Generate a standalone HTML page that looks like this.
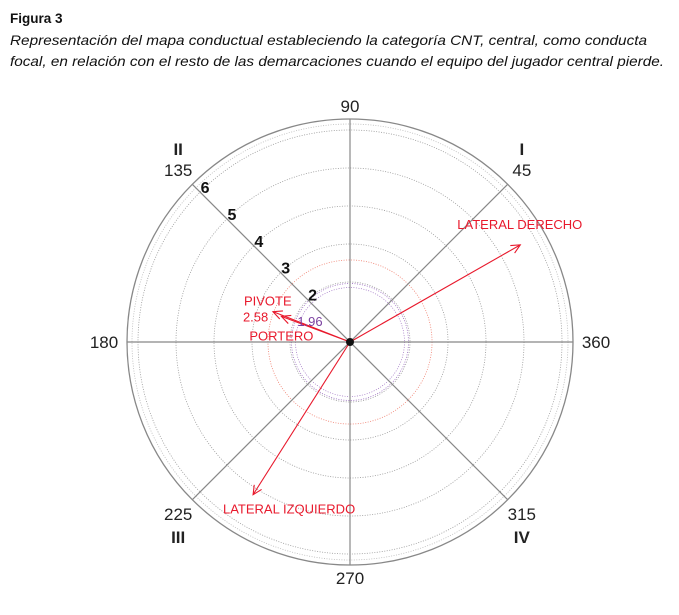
<!DOCTYPE html>
<html><head><meta charset="utf-8"><style>
html,body{margin:0;padding:0;background:#fff;}
svg{display:block;font-family:"Liberation Sans",sans-serif;}
</style></head><body>
<svg width="679" height="615" viewBox="0 0 679 615">
<text x="10" y="23" font-size="13.5" font-weight="bold" fill="#111">Figura 3</text>
<text x="10" y="45" font-size="14" font-style="italic" fill="#111" textLength="637" lengthAdjust="spacingAndGlyphs">Representación del mapa conductual estableciendo la categoría CNT, central, como conducta</text>
<text x="10" y="66" font-size="14" font-style="italic" fill="#111" textLength="654" lengthAdjust="spacingAndGlyphs">focal, en relación con el resto de las demarcaciones cuando el equipo del jugador central pierde.</text>
<g id="chart"></g>
</svg>
<script>
const categories = ["LATERAL DERECHO","LATERAL IZQUIERDO","PIVOTE","PORTERO"];
const lengths = [5.58, 5.18, 2.6, 2.35];
const angles = [29.7, 237.6, 158.5, 159.5];
const radialTicks = [2,3,4,5,6];
const angleTicks = [45,90,135,180,225,270,315,360];
const quadrants = ["I","II","III","IV"];
const sigLevels = [1.96, 2.58];

const NS="http://www.w3.org/2000/svg";
const g=document.getElementById('chart');
const cx=350, cy=342, R=223;
function rScale(v){return 38*v-16;}
function pt(v,a){const r=rScale(v),t=a*Math.PI/180;return [cx+r*Math.cos(t),cy-r*Math.sin(t)];}
function ptR(r,a){const t=a*Math.PI/180;return [cx+r*Math.cos(t),cy-r*Math.sin(t)];}
function mk(tag,attrs){const e=document.createElementNS(NS,tag);for(const k in attrs)e.setAttribute(k,attrs[k]);g.appendChild(e);return e;}

let e;
e=mk('circle',{cx:cx,cy:cy,r:R,fill:'none',stroke:'#888','stroke-width':1.3});


e=mk('circle',{cx:cx,cy:cy,r:R-5,fill:'none',stroke:'#bbb','stroke-width':0.8,'stroke-dasharray':'1,1.5'});


radialTicks.forEach(v=>{
  const c=mk('circle',{cx:cx,cy:cy,r:rScale(v),fill:'none',stroke:'#999','stroke-width':0.8,'stroke-dasharray':'1,1.5'});
  
  
});
const sigColors=['#9a6ac0','#f08070'];
sigLevels.forEach((v,i)=>{
  const c=mk('circle',{cx:cx,cy:cy,r:rScale(v),fill:'none',stroke:sigColors[i],'stroke-width':0.8,'stroke-dasharray':'1,1.5'});
  
  
});
e=mk('circle',{cx:cx,cy:cy,r:rScale(sigLevels[0])-4,fill:'none',stroke:'#9a6ac0','stroke-width':0.7,'stroke-dasharray':'1,1.5'});


// axis lines
[0,45,90,135].forEach(a=>{
  const p1=ptR(R,a),p2=ptR(R,a+180);
  const l=mk('line',{x1:p1[0],y1:p1[1],x2:p2[0],y2:p2[1],stroke:'#888','stroke-width':1.2});
  
  
});
// angle labels
angleTicks.forEach(a=>{
  let p;
  if(a===90||a===270){p=ptR(R+13,a);}else if(a%90===0){p=ptR(R+23,a);}else{p=ptR(R+20,a);}
  const t=mk('text',{x:p[0],y:p[1]+6,'font-size':17,'text-anchor':'middle',fill:'#222'});
  t.textContent=a;
  
  
});
// quadrant labels
[45,135,225,315].forEach((a,i)=>{
  const p=ptR(R+20,a);
  const dy=(a<180)?-21:23;
  const t=mk('text',{x:p[0],y:p[1]+6+dy,'font-size':17,'font-weight':'bold','text-anchor':'middle',fill:'#222'});
  t.textContent=quadrants[i];
  
  
});
// radial tick labels
radialTicks.forEach(v=>{
  const p=pt(v,135);
  const t=mk('text',{x:p[0]+5,y:p[1]+1,'font-size':16,'font-weight':'bold','text-anchor':'middle',fill:'#111'});
  t.textContent=v;
  
  
});
// vectors
categories.forEach((name,i)=>{
  const p=pt(lengths[i],angles[i]);
  const l=mk('line',{x1:cx,y1:cy,x2:p[0],y2:p[1],stroke:'#e8192c','stroke-width':1.1});
  
  
  const a=Math.atan2(p[1]-cy,p[0]-cx);
  const h=10,s=0.45;
  const d='M'+(p[0]-h*Math.cos(a-s))+','+(p[1]-h*Math.sin(a-s))+' L'+p[0]+','+p[1]+' L'+(p[0]-h*Math.cos(a+s))+','+(p[1]-h*Math.sin(a+s));
  const ah=mk('path',{d:d,fill:'none',stroke:'#e8192c','stroke-width':1.1});
  
  
});
function lab(txt,x,y,anchor,name,color,size){
  const t=mk('text',{x:x,y:y,'font-size':size||13,'text-anchor':anchor,fill:color||'#e8192c'});
  t.textContent=txt;
  
  
}
let p0=pt(lengths[0],angles[0]);
lab(categories[0],p0[0]+62,p0[1]-16,'end','label-lateral-derecho');
let p1=pt(lengths[1],angles[1]);
lab(categories[1],p1[0]+36,p1[1]+19,'middle','label-lateral-izquierdo');
let p2=pt(lengths[2],angles[2]);
lab(categories[2],p2[0]-29,p2[1]-6,'start','label-pivote');
lab(String(sigLevels[1]),p2[0]-30,p2[1]+10,'start','label-2-58');
let p3=pt(lengths[3],angles[3]);
lab(categories[3],p3[0]-32,p3[1]+24,'start','label-portero');
lab(String(sigLevels[0]),cx-40,cy-16,'middle','label-1-96','#7a3fa0');
e=mk('circle',{cx:cx,cy:cy,r:4,fill:'#111'});


</script>
</body></html>
